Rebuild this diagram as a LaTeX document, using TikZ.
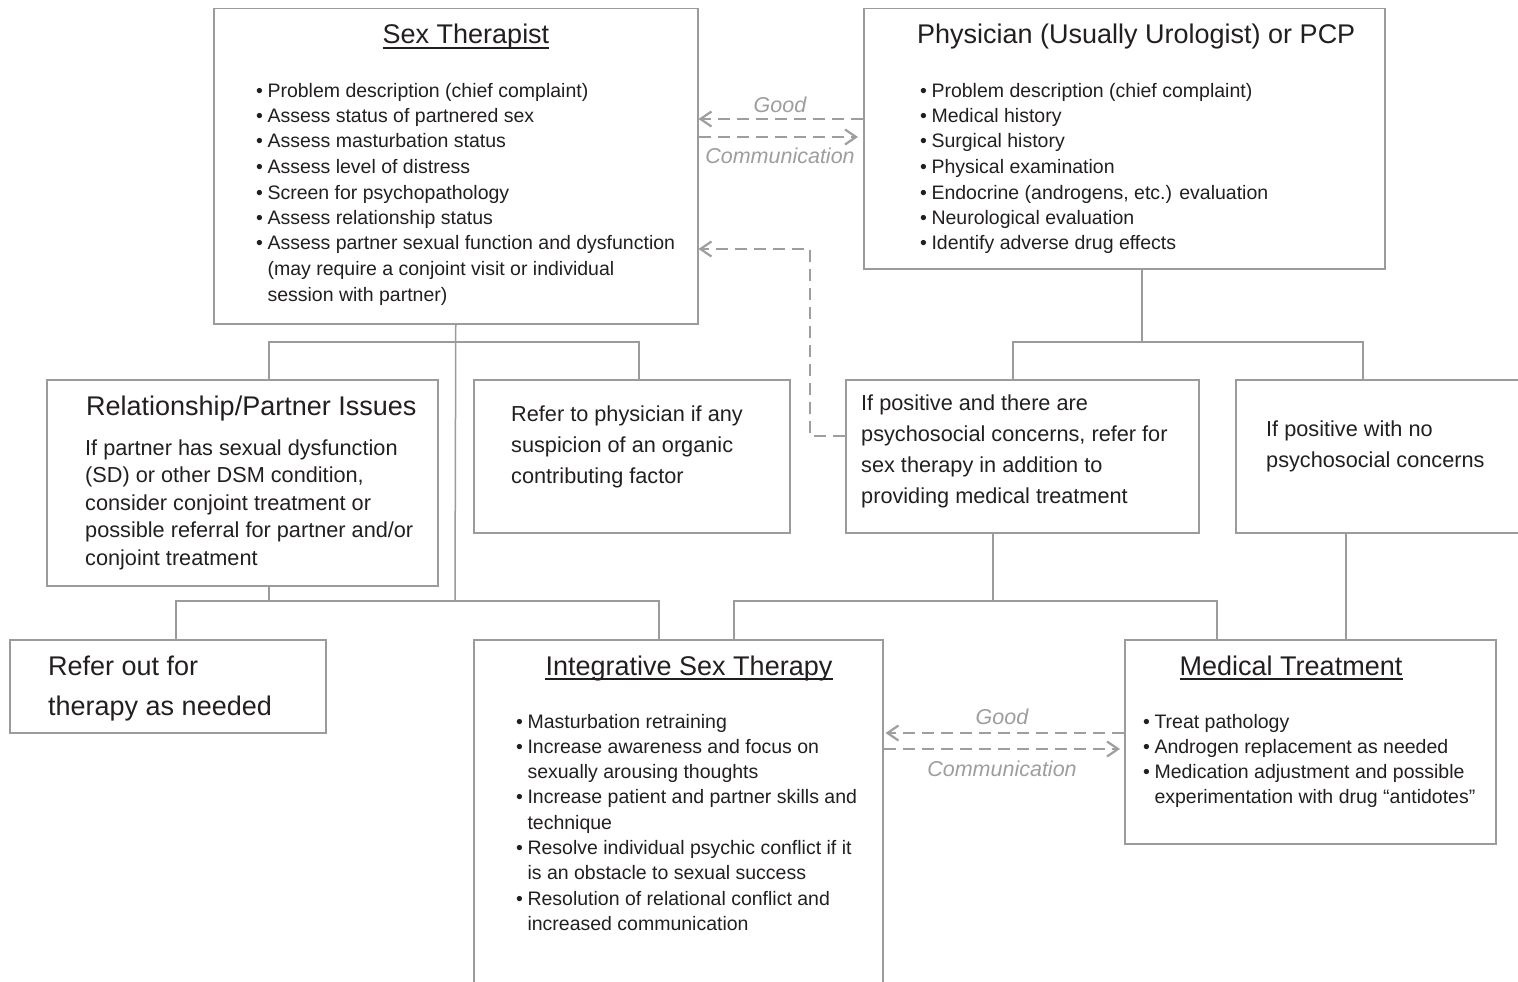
\documentclass[tikz,border=0pt]{standalone}
\usepackage{fontspec}
\setmainfont{Liberation Sans}
\usetikzlibrary{arrows.meta}
\definecolor{boxgray}{HTML}{9B9B9B}
\definecolor{dashgray}{HTML}{9E9E9E}
\definecolor{txt}{HTML}{231F20}
\newcommand{\mylines}[1]{\begin{tabular}[t]{@{}l@{}}#1\end{tabular}}
\newcommand{\mybul}[1]{\begin{tabular}[t]{@{}l@{\hspace{4.5pt}}l@{}}#1\end{tabular}}
\newcommand{\bu}{\textbullet}
\begin{document}
\begin{tikzpicture}[x=1pt,y=-1pt,
 box/.style={draw=boxgray,line width=1.5pt,inner sep=0pt,anchor=north west},
 conn/.style={draw=boxgray,line width=1.5pt},
 comm/.style={draw=dashgray,line width=2.2pt,dash pattern=on 12pt off 7pt,-{Straight Barb[length=11pt,width=15pt]}},
 lab/.style={text=dashgray,font=\fontsize{21.5}{26}\selectfont\itshape,anchor=base,inner sep=0pt},
 title/.style={text=txt,font=\fontsize{27}{32}\selectfont,inner sep=0pt},
 bull/.style={text=txt,font=\fontsize{19.5}{25.5}\selectfont,inner sep=0pt,anchor=base west},
 body/.style={text=txt,font=\fontsize{21.7}{27.5}\selectfont,inner sep=0pt,anchor=base west},
 body31/.style={body,font=\fontsize{21.7}{31}\selectfont},
 ul/.style={draw=txt,line width=1.6pt}]
\fill[white] (0,0) rectangle (1518,982);
\clip (0,0) rectangle (1518,982);

% boxes
\node[box,minimum width=484pt,minimum height=315pt] (st) at (213,8) {};
\node[box,minimum width=521pt,minimum height=260pt] (phy) at (863,8) {};
\node[box,minimum width=391pt,minimum height=206pt] (rel) at (46,379) {};
\node[box,minimum width=316pt,minimum height=153pt] (refp) at (473,379) {};
\node[box,minimum width=353pt,minimum height=153pt] (pos) at (845,379) {};
\node[box,minimum width=300pt,minimum height=153pt] (nops) at (1235,379) {};
\node[box,minimum width=316pt,minimum height=93pt] (rout) at (9,639) {};
\node[box,minimum width=409pt,minimum height=360pt] (ist) at (473,639) {};
\node[box,minimum width=371pt,minimum height=204pt] (med) at (1124,639) {};

% tree connectors
\coordinate (a1) at (269,342); \coordinate (a2) at (639,342); \coordinate (a3) at (455,601);
\draw[conn] (st.south) -- (a3);
\draw[conn] (a1 |- rel.north) -- (a1) -- (a2) -- (a2 |- refp.north);
\coordinate (b1) at (176,601); \coordinate (b2) at (659,601);
\draw[conn] (a1 |- rel.south) -- (a1 |- b1);
\draw[conn] (b1 |- rout.north) -- (b1) -- (b2) -- (b2 |- ist.north);
\coordinate (c0) at (1142,342); \coordinate (c1) at (1013,342); \coordinate (c2) at (1363,342);
\draw[conn] (c0 |- phy.south) -- (c0);
\draw[conn] (c1 |- pos.north) -- (c1) -- (c2) -- (c2 |- nops.north);
\coordinate (d0) at (993,601); \coordinate (d1) at (734,601); \coordinate (d2) at (1217,601);
\draw[conn] (d0 |- pos.south) -- (d0);
\draw[conn] (d1 |- ist.north) -- (d1) -- (d2) -- (d2 |- med.north);
\coordinate (e0) at (1346,0);
\draw[conn] (e0 |- nops.south) -- (e0 |- med.north);

% communication arrows
\coordinate (y1) at (0,119); \coordinate (y2) at (0,137); \coordinate (y3) at (0,249);
\coordinate (y4) at (0,436); \coordinate (k) at (810,0);
\coordinate (y5) at (0,733); \coordinate (y6) at (0,749);
\draw[comm] (phy.west |- y1) -- (st.east |- y1);
\draw[comm,shorten >=5pt] (st.east |- y2) -- (phy.west |- y2);
\draw[comm] (pos.west |- y4) -- (k |- y4) -- (k |- y3) -- (st.east |- y3);
\draw[comm,shorten >=2pt] (med.west |- y5) -- (ist.east |- y5);
\draw[comm,shorten >=4pt] (ist.east |- y6) -- (med.west |- y6);
\node[lab] (g1) at (780,112) {Good};
\node[lab] (m1) at (780,163) {Communication};
\node[lab] (g2) at (1002,724) {Good};
\node[lab] (m2) at (1002,776) {Communication};

% titles
\node[title,anchor=base] (stt) at (466,44) {Sex Therapist};
\draw[ul] ([yshift=-4pt]stt.base west) -- ([yshift=-4pt]stt.base east);
\node[title,anchor=base west] (pht) at (917,44) {Physician (Usually Urologist) or PCP};
\node[title,anchor=base west] (relt) at (86,415) {Relationship/Partner Issues};
\node[title,anchor=base] (istt) at (689,675) {Integrative Sex Therapy};
\draw[ul] ([yshift=-4pt]istt.base west) -- ([yshift=-4pt]istt.base east);
\node[title,anchor=base] (medt) at (1291,675) {Medical Treatment};
\draw[ul] ([yshift=-4pt]medt.base west) -- ([yshift=-4pt]medt.base east);
\node[title,anchor=base west,font=\fontsize{27}{40}\selectfont] (routt) at (48,675) {\mylines{Refer out for\\therapy as needed}};

% body texts
\node[body] (relb) at (85,455) {\mylines{If partner has sexual dysfunction\\(SD) or other DSM condition,\\consider conjoint treatment or\\possible referral for partner and/or\\conjoint treatment}};
\node[body31] (refpb) at (511,421) {\mylines{Refer to physician if any\\suspicion of an organic\\contributing factor}};
\node[body31] (posb) at (861,410) {\mylines{If positive and there are\\psychosocial concerns, refer for\\sex therapy in addition to\\providing medical treatment}};
\node[body31] (nopsb) at (1266,436) {\mylines{If positive with no\\psychosocial concerns}};

% bullet lists
\node[bull] (stb) at (256,97) {\mybul{\bu & Problem description (chief complaint)\\
\bu & Assess status of partnered sex\\
\bu & Assess masturbation status\\
\bu & Assess level of distress\\
\bu & Screen for psychopathology\\
\bu & Assess relationship status\\
\bu & Assess partner sexual function and dysfunction\\
 & (may require a conjoint visit or individual\\
 & session with partner)}};
\node[bull] (phb) at (920,97) {\mybul{\bu & Problem description (chief complaint)\\
\bu & Medical history\\
\bu & Surgical history\\
\bu & Physical examination\\
\bu & Endocrine (androgens, etc.) evaluation\\
\bu & Neurological evaluation\\
\bu & Identify adverse drug effects}};
\node[bull,font=\fontsize{19.5}{25.3}\selectfont] (istb) at (516,728) {\mybul{\bu & Masturbation retraining\\
\bu & Increase awareness and focus on\\
 & sexually arousing thoughts\\
\bu & Increase patient and partner skills and\\
 & technique\\
\bu & Resolve individual psychic conflict if it\\
 & is an obstacle to sexual success\\
\bu & Resolution of relational conflict and\\
 & increased communication}};
\node[bull,font=\fontsize{19.5}{25.3}\selectfont] (medb) at (1143,728) {\mybul{\bu & Treat pathology\\
\bu & Androgen replacement as needed\\
\bu & Medication adjustment and possible\\
 & experimentation with drug “antidotes”}};
\end{tikzpicture}
\end{document}
